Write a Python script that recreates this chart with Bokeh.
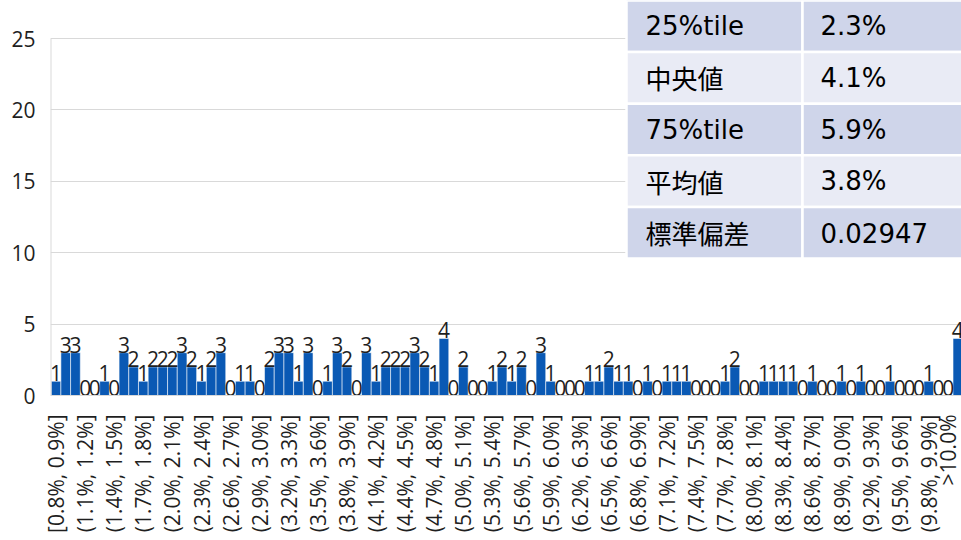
import math
from bokeh.plotting import figure
from bokeh.models import FixedTicker, Range1d, ColumnDataSource
from bokeh.core.properties import value
from bokeh.embed import file_html
from bokeh.resources import INLINE

# ---------------- data ----------------
bin_labels = [
    "[0.8%, 0.9%]", "(0.9%, 1.0%]", "(1.0%, 1.1%]", "(1.1%, 1.2%]", "(1.2%, 1.3%]",
    "(1.3%, 1.4%]", "(1.4%, 1.5%]", "(1.5%, 1.6%]", "(1.6%, 1.7%]", "(1.7%, 1.8%]",
    "(1.8%, 1.9%]", "(1.9%, 2.0%]", "(2.0%, 2.1%]", "(2.1%, 2.2%]", "(2.2%, 2.3%]",
    "(2.3%, 2.4%]", "(2.4%, 2.5%]", "(2.5%, 2.6%]", "(2.6%, 2.7%]", "(2.7%, 2.8%]",
    "(2.8%, 2.9%]", "(2.9%, 3.0%]", "(3.0%, 3.1%]", "(3.1%, 3.2%]", "(3.2%, 3.3%]",
    "(3.3%, 3.4%]", "(3.4%, 3.5%]", "(3.5%, 3.6%]", "(3.6%, 3.7%]", "(3.7%, 3.8%]",
    "(3.8%, 3.9%]", "(3.9%, 4.0%]", "(4.0%, 4.1%]", "(4.1%, 4.2%]", "(4.2%, 4.3%]",
    "(4.3%, 4.4%]", "(4.4%, 4.5%]", "(4.5%, 4.6%]", "(4.6%, 4.7%]", "(4.7%, 4.8%]",
    "(4.8%, 4.9%]", "(4.9%, 5.0%]", "(5.0%, 5.1%]", "(5.1%, 5.2%]", "(5.2%, 5.3%]",
    "(5.3%, 5.4%]", "(5.4%, 5.5%]", "(5.5%, 5.6%]", "(5.6%, 5.7%]", "(5.7%, 5.8%]",
    "(5.8%, 5.9%]", "(5.9%, 6.0%]", "(6.0%, 6.1%]", "(6.1%, 6.2%]", "(6.2%, 6.3%]",
    "(6.3%, 6.4%]", "(6.4%, 6.5%]", "(6.5%, 6.6%]", "(6.6%, 6.7%]", "(6.7%, 6.8%]",
    "(6.8%, 6.9%]", "(6.9%, 7.0%]", "(7.0%, 7.1%]", "(7.1%, 7.2%]", "(7.2%, 7.3%]",
    "(7.3%, 7.4%]", "(7.4%, 7.5%]", "(7.5%, 7.6%]", "(7.6%, 7.7%]", "(7.7%, 7.8%]",
    "(7.8%, 7.9%]", "(7.9%, 8.0%]", "(8.0%, 8.1%]", "(8.1%, 8.2%]", "(8.2%, 8.3%]",
    "(8.3%, 8.4%]", "(8.4%, 8.5%]", "(8.5%, 8.6%]", "(8.6%, 8.7%]", "(8.7%, 8.8%]",
    "(8.8%, 8.9%]", "(8.9%, 9.0%]", "(9.0%, 9.1%]", "(9.1%, 9.2%]", "(9.2%, 9.3%]",
    "(9.3%, 9.4%]", "(9.4%, 9.5%]", "(9.5%, 9.6%]", "(9.6%, 9.7%]", "(9.7%, 9.8%]",
    "(9.8%, 9.9%]", "(9.9%, 10.0%]", "(10.0%, 10.1%]", ">10.0%",
]
counts = [
    1, 3, 3, 0, 0, 1, 0, 3, 2, 1,
    2, 2, 2, 3, 2, 1, 2, 3, 0, 1,
    1, 0, 2, 3, 3, 1, 3, 0, 1, 3,
    2, 0, 3, 1, 2, 2, 2, 3, 2, 1,
    4, 0, 2, 0, 0, 1, 2, 1, 2, 0,
    3, 1, 0, 0, 0, 1, 1, 2, 1, 1,
    0, 1, 0, 1, 1, 1, 0, 0, 0, 1,
    2, 0, 0, 1, 1, 1, 1, 0, 1, 0,
    0, 1, 0, 1, 0, 0, 1, 0, 0, 0,
    1, 0, 0, 4,
]
label_every = 3
y_ticks = [0, 5, 10, 15, 20, 25]

stat_names = ["25%tile", "中央値", "75%tile", "平均値", "標準偏差"]
stat_values = ["2.3%", "4.1%", "5.9%", "3.8%", "0.02947"]

# ---------------- layout ----------------
W, H = 961, 540
FL, FR, FT, FB = 50, 961, 0, 395          # frame edges in page px
BAR_PX = 9.697                            # px per bin
XS = -0.5 - 0.7 / BAR_PX
XE = XS + (FR - FL) / BAR_PX
YE = 25 * (FB - FT) / (FB - 38)


def dx(px):
    return XS + (px - FL) / (FR - FL) * (XE - XS)


def dy(py):
    return (FB - py) / (FB - FT) * YE


BAR_COLOR = "#0A59B4"
GRID = "#D9D9D9"
TXT = "#1F1F1F"
CHART_FONT = "Open Sans"

p = figure(width=W, height=H, output_backend="svg", toolbar_location=None,
           x_range=Range1d(XS, XE), y_range=Range1d(0, YE),
           min_border_left=FL, min_border_right=0, min_border_top=0,
           min_border_bottom=H - FB)
p.outline_line_color = None
p.background_fill_color = "white"
p.border_fill_color = "white"

xs = list(range(len(counts)))
src = ColumnDataSource(dict(x=xs, top=counts, lab=[str(c) for c in counts]))

p.vbar(x="x", top="top", width=1.0, bottom=0, source=src,
       fill_color=BAR_COLOR, line_color="#FFFFFF", line_alpha=0.55, line_width=1)
p.text(x="x", y="top", text="lab", source=src, text_align="center",
       text_baseline="bottom", y_offset=0, text_font=value(CHART_FONT),
       text_font_size="21px", text_color=TXT)

# left axis line (only up to 25)
p.segment(x0=[XS], y0=[0], x1=[XS], y1=[y_ticks[-1]], line_color=GRID, line_width=2)

# axes
p.xgrid.grid_line_color = None
p.ygrid.grid_line_color = GRID
p.ygrid.ticker = FixedTicker(ticks=y_ticks[1:])

yax = p.yaxis[0]
yax.ticker = FixedTicker(ticks=y_ticks)
yax.axis_line_color = None
yax.major_tick_line_color = None
yax.minor_tick_line_color = None
yax.major_tick_out = 0
yax.major_label_standoff = 15
yax.major_label_text_font = CHART_FONT
yax.major_label_text_font_size = "21px"
yax.major_label_text_color = TXT

xax = p.xaxis[0]
tick_pos = xs[::label_every]
xax.ticker = FixedTicker(ticks=tick_pos)
xax.major_label_overrides = {i: bin_labels[i] for i in tick_pos}
xax.major_label_orientation = math.pi / 2
xax.axis_line_color = GRID
xax.major_tick_line_color = None
xax.minor_tick_line_color = None
xax.major_tick_out = 0
xax.major_label_standoff = 19
xax.major_label_text_font = CHART_FONT
xax.major_label_text_font_size = "21px"
xax.major_label_text_color = TXT

# ---------------- stats table (top right) ----------------
ROW_H = 51.6
T_LEFT, T_SPLIT, T_RIGHT = 626, 802, 1000
row_fill = ["#CFD5EA" if r % 2 == 0 else "#E9EBF5" for r in range(len(stat_names))]
tops = [dy(r * ROW_H) for r in range(len(stat_names))]
bots = [dy((r + 1) * ROW_H) for r in range(len(stat_names))]
mids = [dy((r + 0.5) * ROW_H) for r in range(len(stat_names))]

p.quad(left=[dx(T_LEFT)] * 5, right=[dx(T_SPLIT)] * 5, top=tops, bottom=bots,
       fill_color=row_fill, line_color="white", line_width=2.5)
p.quad(left=[dx(T_SPLIT)] * 5, right=[dx(T_RIGHT)] * 5, top=tops, bottom=bots,
       fill_color=row_fill, line_color="white", line_width=2.5)

fonts = ["Noto Sans CJK JP" if any(ord(ch) > 255 for ch in s) else "DejaVu Sans" for s in stat_names]
tsrc = ColumnDataSource(dict(x=[dx(T_LEFT + 19)] * 5, y=mids, t=stat_names, f=fonts))
p.text(x="x", y="y", text="t", text_font="f", text_font_size="26px", source=tsrc,
       text_align="left", text_baseline="middle", text_color="#000000")
vsrc = ColumnDataSource(dict(x=[dx(T_SPLIT + 18)] * 5, y=mids, t=stat_values))
p.text(x="x", y="y", text="t", source=vsrc, text_align="left",
       text_baseline="middle", text_font=value("DejaVu Sans"), text_font_size="26px",
       text_color="#000000")

open("out.html", "w").write(file_html(p, INLINE))
